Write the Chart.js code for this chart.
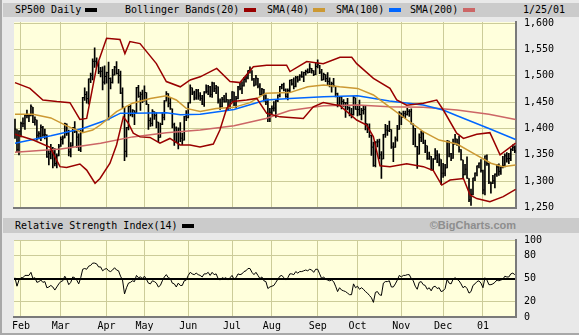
<!DOCTYPE html>
<html><head><meta charset="utf-8">
<script src="https://cdn.jsdelivr.net/npm/chart.js@4/dist/chart.umd.min.js"></script>
<style>
html,body{margin:0;padding:0;}
body{width:579px;height:335px;background:#e9e9e9;position:relative;overflow:hidden;font-family:"DejaVu Sans Mono",monospace;font-size:10px;color:#000;}
.frame{position:absolute;left:0;top:0;width:2px;height:335px;background:#a8a8a8;}
.frameb{position:absolute;left:0;top:333px;width:579px;height:2px;background:#a8a8a8;}
.hbar{position:absolute;left:3px;width:576px;background:#cbcbcb;}
.t{position:absolute;white-space:pre;line-height:12px;}
.sw{position:absolute;width:12px;height:4px;}
canvas{position:absolute;left:0;top:0;}
</style></head>
<body>
<div class="frame"></div>
<div class="frameb"></div>
<div class="hbar" style="top:3px;height:14px"></div>
<div class="hbar" style="top:218px;height:15px"></div>
<div class="t" style="left:15px;top:4px">SP500 Daily</div>
<div class="sw" style="left:85px;top:8px;background:#000"></div>
<div class="t" style="left:125px;top:4px">Bollinger Bands(20)</div>
<div class="sw" style="left:244px;top:8px;background:#990000"></div>
<div class="t" style="left:267px;top:4px">SMA(40)</div>
<div class="sw" style="left:313px;top:8px;background:#cc9933"></div>
<div class="t" style="left:336px;top:4px">SMA(100)</div>
<div class="sw" style="left:389px;top:8px;background:#0066ff"></div>
<div class="t" style="left:410px;top:4px">SMA(200)</div>
<div class="sw" style="left:463px;top:8px;background:#cc6666"></div>
<div class="t" style="left:523px;top:4px">1/25/01</div>
<div class="t" style="left:15px;top:220px">Relative Strength Index(14)</div>
<div class="sw" style="left:182px;top:224px;background:#000"></div>
<div class="t" style="right:63px;top:219px;font-family:'Liberation Sans',Arial,sans-serif;font-weight:bold;font-size:11px;color:#8e8e8e">©BigCharts.com</div>
<canvas id="c1" width="579" height="335"></canvas>
<canvas id="c2" width="579" height="335"></canvas>
<script>
// ---- data (trading-day index 0 = Jan 27 2000 ... 251 = Jan 25 2001) ----
const monthIdx = [3,23,46,65,87,109,129,152,172,194,215,235];
const monthLabels = ['Feb','Mar','Apr','May','Jun','Jul','Aug','Sep','Oct','Nov','Dec','01'];
const priceTicks = [1250,1300,1350,1400,1450,1500,1550,1600];
const rsiTicks = [0,20,50,80,100];

const closes = [
 1398.6,1360.2,1394.5,
 1409.3,1409.1,1425.0,1424.4,1424.2,1441.7,1411.7,1416.8,1387.1,1389.9,1402.1,1387.7,1388.3,1346.1,1352.2,1360.7,1353.4,1333.4,1348.1,1366.4,
 1379.2,1381.8,1409.2,1391.3,1355.6,1366.7,1401.7,1395.1,1383.6,1359.2,1392.1,1458.5,1464.5,1456.6,1493.9,1500.6,1527.4,1527.5,1523.9,1507.7,1508.5,1487.9,1498.6,
 1506.0,1494.7,1487.4,1501.3,1516.4,1504.5,1500.6,1467.2,1440.5,1356.6,1401.4,1441.6,1427.5,1434.5,1429.9,1477.4,1461.0,1464.9,1452.4,
 1468.3,1446.3,1415.1,1409.6,1432.6,1424.2,1412.1,1383.1,1407.8,1421.0,1452.4,1466.0,1447.8,1437.2,1407.0,1400.7,1373.9,1399.1,1381.5,1378.0,1422.5,1420.6,
 1448.8,1477.3,1467.6,1457.8,1471.4,1461.7,1457.0,1446.0,1469.4,1470.5,1478.7,1464.5,1486.0,1476.0,1479.1,1452.2,1441.5,1455.3,1450.6,1454.8,1442.4,1454.6,
 1469.5,1446.2,1456.7,1478.9,1475.6,1480.9,1492.9,1495.8,1510.0,1510.5,1493.7,1482.0,1495.6,1480.2,1464.3,1474.5,1452.4,1449.6,1419.9,1430.8,
 1438.1,1438.7,1452.6,1462.9,1479.3,1482.8,1472.9,1460.3,1471.8,1491.6,1484.4,1479.9,1496.1,1491.7,1499.5,1498.1,1506.0,1508.3,1506.5,1514.1,1509.8,1502.6,1517.7,
 1520.8,1507.1,1492.3,1502.5,1494.5,1489.3,1482.0,1484.9,1480.9,1465.8,1444.5,1459.9,1451.3,1449.1,1448.7,1439.0,1427.2,1426.6,1458.3,1436.5,
 1436.2,1426.5,1434.3,1436.3,1409.0,1402.0,1387.0,1364.6,1329.8,1374.2,1374.6,1350.0,1342.1,1388.8,1396.9,1395.8,1398.1,1364.9,1364.4,1379.6,1398.7,1429.4,
 1421.2,1428.3,1426.7,1432.2,1431.9,1409.3,1400.1,1366.0,1351.3,1383.0,1389.8,1372.3,1367.7,1342.6,1347.4,1322.4,1341.8,1349.0,1336.1,1341.9,1315.0,
 1315.2,1325.0,1376.5,1351.5,1343.6,1369.9,1380.2,1371.2,1360.0,1340.9,1312.2,1322.7,1305.6,1264.7,1274.9,1306.0,1315.2,1328.9,1334.2,1320.3,
 1283.3,1347.6,1333.3,1298.4,1295.9,1300.8,1313.3,1326.8,1318.6,1326.7,1329.5,1348.0,1342.5,1342.9,1360.4,1364.3,1357.5
];
const highs = [
 1418,1398,1396,
 1412,1420,1426,1435,1427,1445,1440,1422,1416,1394,1407,1404,1399,1388,1358,1370,1364,1362,1352,1370,
 1384,1386,1410,1409,1397,1373,1402,1413,1395,1390,1397,1459,1477,1470,1494,1505,1532,1553,1534,1527,1516,1517,1519,
 1507,1526,1496,1512,1518,1527,1512,1509,1477,1440,1402,1442,1445,1436,1434,1478,1482,1469,1473,
 1481,1468,1446,1420,1436,1432,1430,1412,1410,1430,1453,1470,1466,1458,1437,1410,1403,1401,1411,1391,1423,1434,
 1449,1483,1477,1471,1474,1474,1468,1463,1470,1483,1482,1480,1488,1487,1482,1479,1456,1459,1463,1467,1455,1455,
 1470,1469,1461,1480,1486,1489,1497,1501,1510,1517,1510,1495,1501,1495,1485,1476,1474,1464,1456,1438,
 1443,1451,1455,1464,1480,1484,1486,1475,1475,1492,1493,1496,1499,1499,1502,1508,1507,1511,1513,1523,1514,1510,1525,
 1530,1520,1512,1505,1502,1506,1496,1488,1495,1480,1467,1461,1461,1455,1449,1457,1441,1438,1461,1458,
 1445,1454,1438,1443,1443,1409,1409,1387,1374,1375,1379,1380,1356,1389,1408,1406,1414,1398,1373,1384,1406,1432,
 1429,1433,1433,1438,1436,1437,1409,1400,1366,1390,1395,1394,1378,1367,1355,1347,1343,1362,1358,1352,1341,
 1334,1332,1377,1376,1353,1380,1389,1380,1385,1360,1340,1332,1346,1305,1285,1306,1316,1329,1335,1341,
 1321,1348,1350,1334,1298,1311,1314,1332,1333,1327,1347,1352,1354,1353,1362,1369,1367
];
const lows = [
 1381,1356,1350,
 1384,1403,1398,1420,1413,1424,1411,1406,1378,1380,1377,1385,1380,1345,1331,1342,1325,1329,1325,1348,
 1366,1370,1382,1387,1348,1346,1366,1392,1364,1358,1356,1392,1453,1448,1446,1487,1492,1516,1518,1504,1498,1473,1484,
 1486,1416,1475,1486,1501,1503,1486,1466,1439,1339,1346,1397,1424,1422,1407,1429,1459,1434,1449,
 1452,1445,1398,1404,1405,1417,1401,1375,1383,1407,1416,1452,1441,1436,1401,1368,1373,1361,1375,1369,1378,1415,
 1420,1448,1464,1454,1455,1455,1453,1445,1442,1467,1464,1460,1459,1470,1466,1448,1436,1441,1450,1450,1435,1438,
 1451,1443,1439,1456,1473,1466,1480,1488,1494,1505,1491,1480,1482,1477,1463,1464,1452,1445,1413,1413,
 1428,1433,1421,1451,1460,1475,1471,1459,1454,1468,1482,1475,1479,1488,1491,1497,1489,1501,1505,1506,1505,1500,1502,
 1515,1504,1491,1492,1489,1483,1479,1469,1479,1460,1441,1444,1437,1442,1421,1435,1424,1420,1425,1436,
 1424,1425,1416,1427,1397,1392,1383,1349,1328,1327,1365,1342,1305,1342,1383,1387,1394,1362,1337,1364,1376,1398,
 1407,1421,1420,1425,1423,1408,1369,1365,1324,1351,1375,1371,1354,1341,1341,1321,1322,1341,1335,1329,1294,
 1307,1310,1325,1346,1339,1343,1370,1368,1355,1340,1306,1312,1305,1261,1254,1274,1301,1310,1325,1317,
 1276,1274,1330,1295,1277,1295,1287,1309,1311,1313,1325,1327,1336,1333,1339,1358,1354
];
// overlays: [day index, value]
const sma200 = [[0,1355],[23,1361],[43,1372],[59,1384],[76,1392],[93,1397],[110,1405],[126,1419],[138,1434],[155,1443],[172,1444.5],[188,1441],[205,1440],[222,1435],[238,1427],[251.4,1417]];
const sma100 = [[0,1372],[18,1386],[34,1400],[46,1416],[53,1429],[59,1429],[76,1430],[83,1426],[93,1427],[110,1436],[126,1454],[138,1457],[155,1460],[172,1462],[188,1452],[205,1444.5],[215,1435],[222,1424],[238,1400],[251.4,1379]];
const sma40 = [[0,1427],[9,1427],[18,1420],[26,1405],[34,1392],[39,1397],[43,1407],[51,1432],[59,1448],[68,1457],[76,1462],[81,1454],[86,1438],[93,1432],[101,1438],[110,1440],[118,1449],[126,1467],[138,1468],[147,1479],[155,1482.5],[163,1479],[172,1476],[180,1463.5],[188,1441],[197,1416],[205,1394],[213,1378],[222,1370.5],[230,1353],[239,1334],[245,1327.5],[251.4,1330.6]];
const bbUpper = [[0,1487],[7.5,1476],[14,1454],[21,1451],[27.6,1449],[32.6,1417],[36,1419],[41,1517],[46,1571],[52.7,1569],[55.2,1542],[57.7,1565],[62.8,1561],[71,1523],[76,1489],[83,1479],[88,1492],[93,1498],[101.3,1514],[108,1489],[113,1487],[119.7,1517],[126.4,1520],[136.4,1520],[138.1,1508],[146.5,1527],[154.8,1523],[163.2,1535],[169.1,1535],[171.6,1523],[180,1495],[188.3,1476],[191.7,1454],[196.7,1444],[205.1,1448],[211.8,1454],[215.1,1435],[221.8,1391],[225.2,1381],[231.9,1389],[238.5,1392],[243.6,1350],[251.4,1372]];
const bbLower = [[0,1389],[9.2,1378],[17.6,1364],[22.6,1327.5],[25.9,1326],[32.6,1332.5],[36,1321],[40.2,1296],[42.7,1305],[47.7,1334],[51,1368.6],[54.4,1422],[56.9,1410],[59.4,1391],[62.8,1384],[67.8,1383],[72.8,1372],[77.8,1381],[82.9,1368.6],[87.9,1368.6],[92.9,1365],[99.6,1370.5],[102.9,1397],[106.3,1438],[109.6,1451],[116.3,1454],[121.4,1457],[126.4,1428.7],[133.1,1422],[138.1,1421],[144.8,1419],[149.8,1441],[154.8,1449],[163.2,1443],[171.6,1416],[176.6,1406.5],[180,1384],[183.3,1329],[188.3,1327.5],[196.7,1333],[205.1,1327.5],[210.1,1320],[214.3,1292.6],[218.5,1302],[225.2,1305],[228.5,1274],[231.9,1267],[238.5,1261],[245.2,1270.6],[251.4,1284.5]];
const rsi = [
 51,40,48,
 51,51,54,54,54,58,50,51,45,46,48,45,46,38,39,41,39,35,39,43,
 46,47,53,49,42,45,52,51,48,43,51,62,63,62,66,67,70,70,69,65,65,60,62,
 63,60,59,61,64,61,60,53,48,30,38,44,45,47,46,54,51,52,50,
 53,49,44,43,47,46,44,39,41,47,52,55,51,50,44,43,39,44,41,41,47,48,
 54,58,56,55,57,55,54,52,56,56,58,54,58,55,56,50,48,51,50,51,48,51,
 54,49,51,56,55,56,59,60,63,63,58,55,58,54,50,52,47,46,37,39,
 40,41,45,49,53,54,51,48,51,56,56,55,59,57,59,59,60,61,60,62,61,58,62,
 62,56,50,52,49,48,47,48,46,40,33,38,35,34,33,31,29,29,43,38,
 40,36,38,36,33,31,28,25,19,32,33,29,28,44,46,46,47,39,39,43,48,54,
 52,54,54,55,55,50,47,40,36,45,46,42,41,36,38,34,39,40,37,38,33,
 34,37,49,44,43,49,51,49,47,43,38,40,37,31,33,41,43,46,47,44,
 38,51,48,42,42,43,45,48,47,48,49,53,52,52,56,57,55
];

// ---- build ----
const GRID = '#cccc99', BG = '#ffffdc', EDGE = '#7a7a7a';
const FONT = {family:'DejaVu Sans Mono', size:10};
const bgPlugin = {id:'bg', beforeDraw(chart){const a=chart.chartArea, c=chart.ctx; c.save(); c.fillStyle=BG; c.fillRect(a.left,a.top,a.right-a.left,a.bottom-a.top); c.restore();}};
const pts = arr => arr.map(p => ({x:p[0], y:p[1]}));
const lineDs = (arr, color, order) => ({type:'line', data:pts(arr), borderColor:color, borderWidth:1.5, pointRadius:0, tension:0, order});
const xScale = (showLabels) => ({
  type:'linear', min:-0.5, max:251.6, offset:false,
  afterBuildTicks: s => { s.ticks = monthIdx.map(v => ({value:v})); },
  ticks:{display:showLabels, autoSkip:false, maxRotation:0, padding:3, color:'#000', font:FONT,
         callback: v => monthLabels[monthIdx.indexOf(v)]},
  grid:{color:GRID, lineWidth:1, drawTicks:false, offset:false},
  border:{display:true, color:EDGE, width:2},
  afterFit: s => { s.height = showLabels ? 16 : 0; }
});

new Chart(document.getElementById('c1'), {
  type:'bar',
  data:{datasets:[
    lineDs(bbUpper,'#990000',1), lineDs(bbLower,'#990000',1),
    lineDs(sma40,'#cc9933',2), lineDs(sma100,'#0066ff',3), lineDs(sma200,'#cc6666',4),
    {type:'bar', data:closes.map((c,i)=>({x:i, y:[lows[i], highs[i]]})), backgroundColor:'#000', barThickness:1, grouped:false, order:10},
    {type:'line', data:closes.map((c,i)=>({x:i, y:c})), showLine:false, pointStyle:'dash', pointRadius:1.5, pointBorderColor:'#000', pointBorderWidth:1, order:9}
  ]},
  options:{
    responsive:false, animation:false, devicePixelRatio:1,
    layout:{padding:{left:14, top:22, right:0, bottom:127.5}},
    plugins:{legend:{display:false}, tooltip:{enabled:false}},
    scales:{
      x: xScale(false),
      y:{position:'right', min:1250, max:1602,
         afterBuildTicks: s => { s.ticks = priceTicks.map(v => ({value:v})); },
         ticks:{color:'#000', font:FONT, padding:8, callback: v => v.toLocaleString('en-US')},
         grid:{color:GRID, drawTicks:false},
         border:{display:true, color:EDGE, width:2},
         afterFit: s => { s.width = 63; }}
    }
  },
  plugins:[bgPlugin]
});

new Chart(document.getElementById('c2'), {
  type:'line',
  data:{datasets:[{data:rsi.map((v,i)=>({x:i, y:v})), borderColor:'#000', borderWidth:1, pointRadius:0, tension:0}]},
  options:{
    responsive:false, animation:false, devicePixelRatio:1,
    layout:{padding:{left:14, top:240, right:0, bottom:2}},
    plugins:{legend:{display:false}, tooltip:{enabled:false}},
    scales:{
      x: xScale(true),
      y:{position:'right', min:0, max:100,
         afterBuildTicks: s => { s.ticks = rsiTicks.map(v => ({value:v})); },
         ticks:{color:'#000', font:FONT, padding:8},
         grid:{color: c => c.tick && c.tick.value === 50 ? '#000' : GRID, lineWidth: c => c.tick && c.tick.value === 50 ? 2 : 1, drawTicks:false},
         border:{display:true, color:EDGE, width:2},
         afterFit: s => { s.width = 63; }}
    }
  },
  plugins:[bgPlugin]
});
</script>
</body></html>
